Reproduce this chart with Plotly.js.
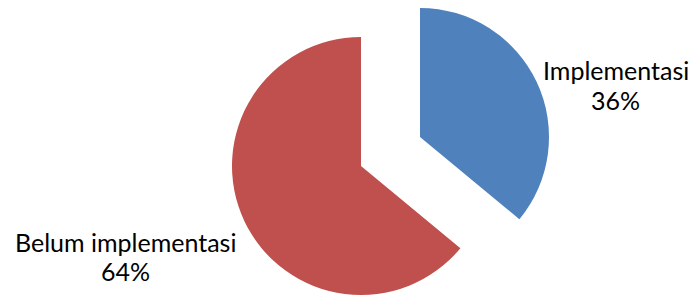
<!DOCTYPE html>
<html>
<head>
<meta charset="utf-8">
<script src="https://cdn.plot.ly/plotly-3.0.1.min.js"></script>
<style>html,body{margin:0;padding:0;background:#fff;}#chart{width:695px;height:295px;}</style>
</head>
<body>
<div id="chart"></div>
<script>
var categories = ["Implementasi", "Belum implementasi"];
var values = [36, 64];
var colors = ["#4F81BD", "#C0504D"];

var W = 695, H = 295;
function dom(cx, cy, r) {
  return {x: [(cx - r) / W, (cx + r) / W], y: [(H - cy - r) / H, (H - cy + r) / H]};
}
// pie for each visible slice; the exploded slice is drawn as its own trace
var traces = categories.map(function (c, i) {
  var cols = colors.map(function (col, j) { return j === i ? col : "rgba(0,0,0,0)"; });
  var d = i === 0 ? dom(420, 137, 129) : dom(361, 166, 129);
  return {
    type: "pie", labels: categories, values: values, sort: false,
    direction: "clockwise", rotation: 0,
    marker: {colors: cols, line: {width: 0}},
    textinfo: "none", hoverinfo: "none", showlegend: false,
    domain: d
  };
});
var total = values.reduce(function (a, b) { return a + b; }, 0);
var labelX = [615.5, 125];
var labelY = [[70, 100], [242, 271]];
var annotations = [];
categories.forEach(function (c, i) {
  var lines = [c, Math.round(values[i] / total * 100) + "%"];
  lines.forEach(function (t, k) {
    annotations.push({
      xref: "paper", yref: "paper", x: labelX[i] / W, y: 1 - labelY[i][k] / H,
      text: t, showarrow: false, xanchor: "center", yanchor: "middle",
      font: {family: "Lato, 'Open Sans', sans-serif", size: 25, color: "#000"}
    });
  });
});
Plotly.newPlot("chart", traces, {
  width: W, height: H, margin: {l: 0, r: 0, t: 0, b: 0},
  paper_bgcolor: "#fff", showlegend: false, annotations: annotations
}, {staticPlot: true});
</script>
</body>
</html>
